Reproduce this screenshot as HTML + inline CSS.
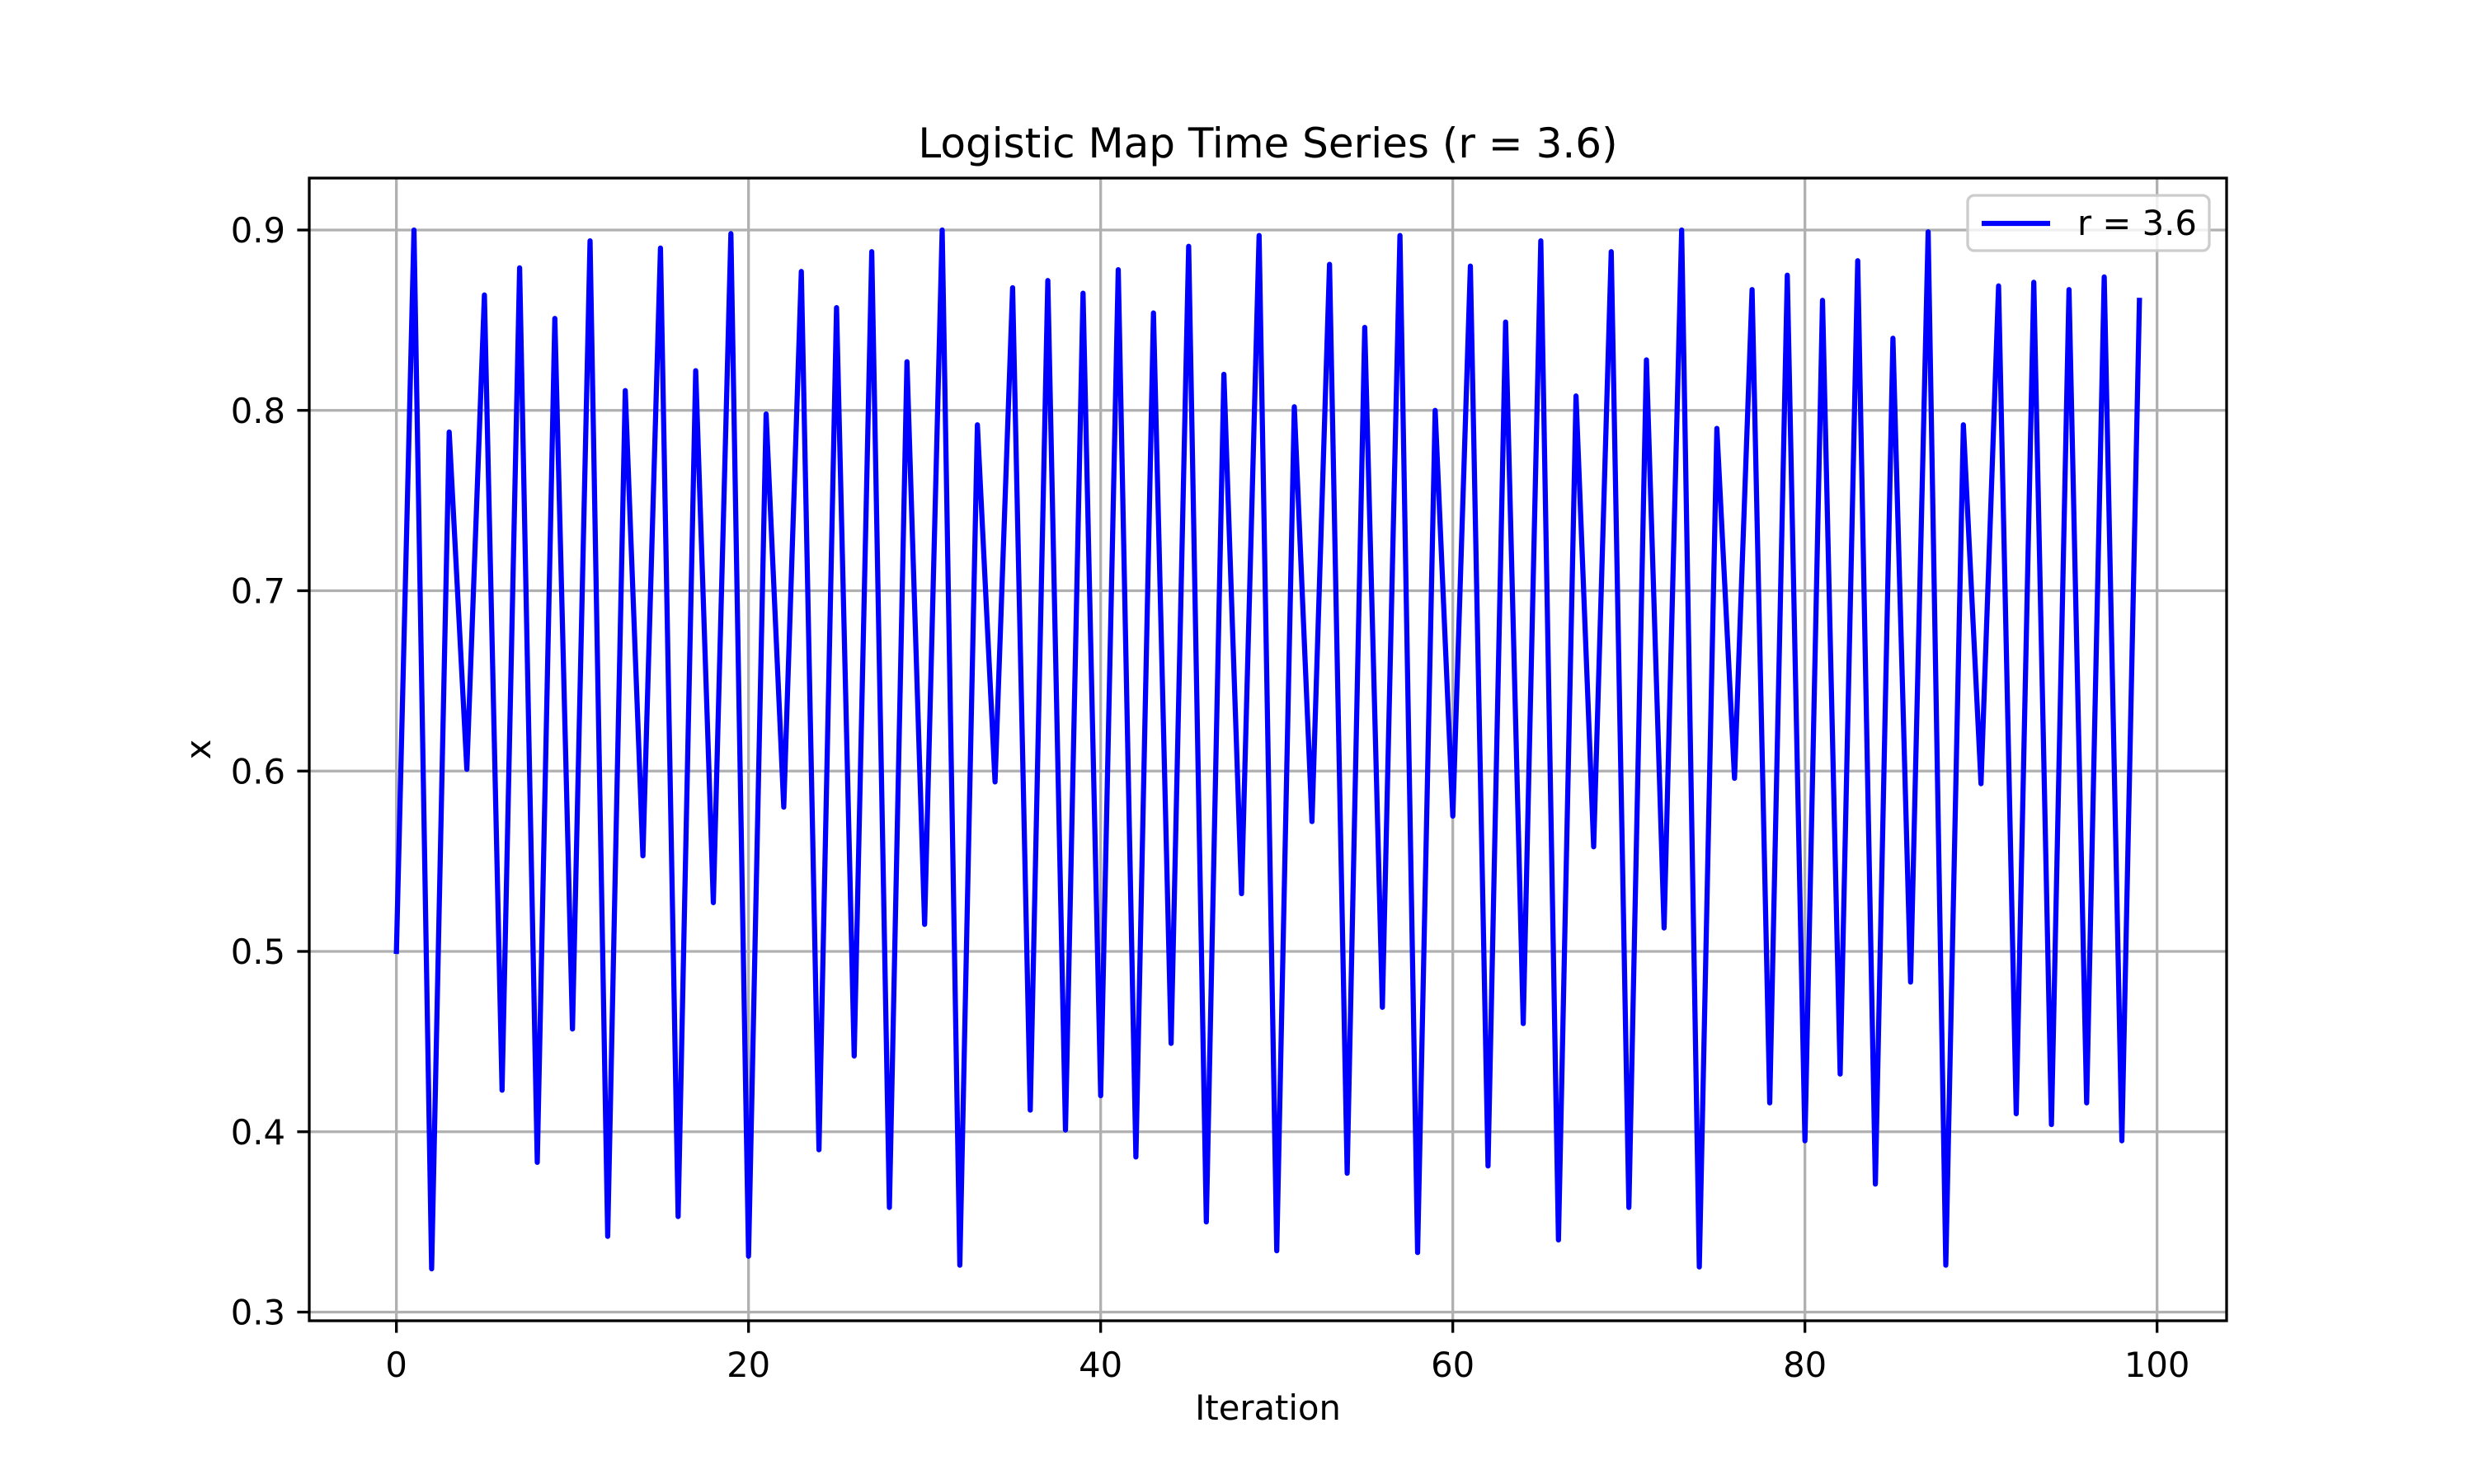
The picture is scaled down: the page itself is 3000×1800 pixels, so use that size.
<!DOCTYPE html>
<html><head><meta charset="utf-8">
<style>html,body{margin:0;padding:0;background:#fff}svg{display:block}text{font-family:"DejaVu Sans","Liberation Sans",sans-serif;fill:#000}</style>
</head><body>
<svg id="chart" width="3000" height="1800" viewBox="0 0 3000 1800" xmlns="http://www.w3.org/2000/svg">
<rect width="3000" height="1800" fill="#fff"/>
<g id="grid"></g>
<g id="series"></g>
<rect x="375" y="216" width="2325" height="1386" fill="none" stroke="#000" stroke-width="3.3"/>
<g id="ticks"></g>
<text x="1537.5" y="191" font-size="50" text-anchor="middle">Logistic Map Time Series (r = 3.6)</text>
<text x="1537.5" y="1722" font-size="41.7" text-anchor="middle">Iteration</text>
<text x="0" y="0" font-size="41.7" text-anchor="middle" transform="translate(255,909) rotate(-90)">x</text>
<g>
<rect x="2386" y="237" width="293" height="67" rx="8" fill="#fff" fill-opacity="0.8" stroke="#ccc" stroke-width="3.3"/>
<line x1="2403" y1="271" x2="2486" y2="271" stroke="#0000ff" stroke-width="6.25"/>
<text x="2519" y="285" font-size="41.7">r = 3.6</text>
</g>
</svg>
<script>
const iterations = Array.from({length:100},(_,i)=>i);
const xValues = [0.5,0.90,0.324,0.788,0.601,0.864,0.423,0.879,0.383,0.851,0.457,0.894,0.342,0.811,0.553,0.890,0.353,0.822,0.527,0.898,0.331,0.798,0.580,0.877,0.390,0.857,0.442,0.888,0.358,0.827,0.515,0.900,0.326,0.792,0.594,0.868,0.412,0.872,0.401,0.865,0.420,0.878,0.386,0.854,0.449,0.891,0.350,0.820,0.532,0.897,0.334,0.802,0.572,0.881,0.377,0.846,0.469,0.897,0.333,0.800,0.575,0.880,0.381,0.849,0.460,0.894,0.340,0.808,0.558,0.888,0.358,0.828,0.513,0.900,0.325,0.790,0.596,0.867,0.416,0.875,0.395,0.861,0.432,0.883,0.371,0.840,0.483,0.899,0.326,0.792,0.593,0.869,0.410,0.871,0.404,0.867,0.416,0.874,0.395,0.861];
const xTicks = [0,20,40,60,80,100];
const yTicks = [0.3,0.4,0.5,0.6,0.7,0.8,0.9];
const yTickLabels = ["0.3","0.4","0.5","0.6","0.7","0.8","0.9"];

const L=375,R=2700,T=216,B=1602;
const xmin0=Math.min(...iterations),xmax0=Math.max(...iterations);
const ymin0=Math.min(...xValues),ymax0=Math.max(...xValues);
const xm=(xmax0-xmin0)*0.05, ym=(ymax0-ymin0)*0.05;
const x0=xmin0-xm,x1=xmax0+xm,y0=ymin0-ym,y1=ymax0+ym;
const sx=v=>L+(v-x0)/(x1-x0)*(R-L);
const sy=v=>B-(v-y0)/(y1-y0)*(B-T);
const NS="http://www.w3.org/2000/svg";
function mk(tag,attrs,parent){const e=document.createElementNS(NS,tag);for(const k in attrs)e.setAttribute(k,attrs[k]);parent.appendChild(e);return e;}
const grid=document.getElementById('grid'),ticks=document.getElementById('ticks'),series=document.getElementById('series');
xTicks.forEach(t=>{
  const x=sx(t);
  const g=mk('line',{x1:x,x2:x,y1:T,y2:B,stroke:'#b0b0b0','stroke-width':3.3},grid);
  
  
  const tk=mk('line',{x1:x,x2:x,y1:B,y2:B+14.6,stroke:'#000','stroke-width':3.3},ticks);
  
  
  const tx=mk('text',{x:x,y:1670,'font-size':41.7,'text-anchor':'middle'},ticks);
  
  
  tx.textContent=String(t);
});
yTicks.forEach((t,i)=>{
  const y=sy(t);
  const g=mk('line',{x1:L,x2:R,y1:y,y2:y,stroke:'#b0b0b0','stroke-width':3.3},grid);
  
  
  const tk=mk('line',{x1:L-14.6,x2:L,y1:y,y2:y,stroke:'#000','stroke-width':3.3},ticks);
  
  
  const tx=mk('text',{x:L-29,y:y+15,'font-size':41.7,'text-anchor':'end'},ticks);
  
  
  tx.textContent=yTickLabels[i];
});
const pts=iterations.map((v,i)=>sx(v).toFixed(1)+','+sy(xValues[i]).toFixed(1)).join(' ');
const pl=mk('polyline',{points:pts,fill:'none',stroke:'#0000ff','stroke-width':6.25,'stroke-linejoin':'round','stroke-linecap':'square'},series);


</script>
</body></html>
